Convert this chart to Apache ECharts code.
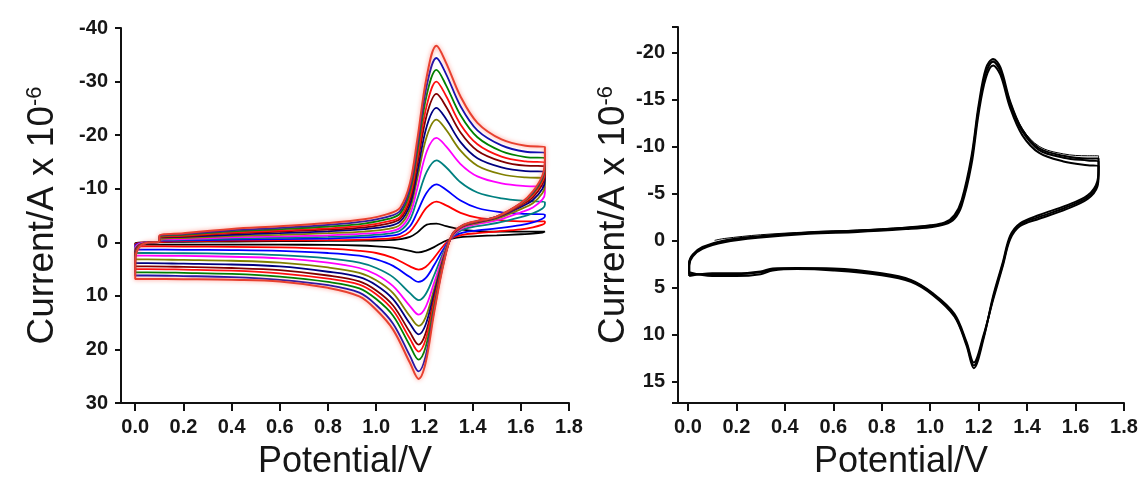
<!DOCTYPE html>
<html>
<head>
<meta charset="utf-8">
<script src="https://cdn.jsdelivr.net/npm/echarts@6/dist/echarts.min.js"></script>
<style>
html, body { margin: 0; padding: 0; background: #fff; }
#chart { width: 1145px; height: 491px; }
</style>
</head>
<body>
<div id="chart"></div>
<script>
// ---- left panel: 12 CVs at increasing scan rate (uA, anodic negative) ----
var leftColors = ['#000000', '#ff0000', '#0000ff', '#008080', '#ff00ff', '#808000',
                  '#000080', '#800000', '#ff1010', '#008000', '#1010b0', '#e8402f'];

var lfx = [0.1, 0.2, 0.4, 0.6, 0.8, 0.95, 1.05, 1.1, 1.14, 1.17, 1.21, 1.25, 1.29, 1.35, 1.42, 1.52, 1.62, 1.7];
var lrx = [1.7, 1.69, 1.65, 1.6, 1.5, 1.42, 1.36, 1.315, 1.28, 1.24, 1.205, 1.176, 1.14, 1.07, 1.0, 0.93, 0.8, 0.6, 0.4, 0.2, 0.05, 0.0];
var ltx = [0.0, 0.015, 0.05, 0.1];

var fwd0 = [-0.1, -0.1, -0.15, -0.2, -0.25, -0.3, -0.4, -0.6, -1.0, -1.8, -3.3, -3.5, -3.0, -2.4, -2.1, -2.0, -2.0, -2.0];
var fwd1 = [-0.15, -0.2, -0.3, -0.35, -0.4, -0.5, -0.7, -1.0, -2.0, -3.8, -6.5, -7.6, -6.9, -5.5, -4.6, -4.1, -3.9, -3.9];
var fwd2 = [-0.25, -0.35, -0.5, -0.6, -0.7, -0.9, -1.2, -1.6, -3.0, -5.6, -9.3, -10.8, -9.8, -7.8, -6.4, -5.6, -5.3, -5.2];
var fwd3 = [-0.35, -0.5, -0.7, -0.85, -1.0, -1.25, -1.6, -2.2, -4.2, -8.0, -13.2, -15.3, -14.0, -11.2, -9.3, -8.2, -7.7, -7.5];
var fwd4 = [-0.45, -0.6, -0.9, -1.1, -1.3, -1.6, -2.0, -2.7, -5.2, -10.0, -17.0, -19.5, -17.9, -14.6, -12.3, -11.0, -10.5, -10.4];
var fwd5 = [-0.55, -0.8, -1.15, -1.4, -1.7, -2.0, -2.5, -3.3, -6.2, -11.8, -19.8, -22.9, -21.0, -17.1, -14.3, -12.7, -12.1, -12.0];
var fwd6 = [-0.7, -1.0, -1.4, -1.7, -2.05, -2.45, -3.0, -3.9, -7.0, -13.0, -21.7, -25.1, -23.0, -18.7, -15.7, -14.0, -13.3, -13.2];
var fwd7 = [-0.8, -1.1, -1.65, -2.0, -2.35, -2.8, -3.5, -4.4, -7.8, -14.4, -23.8, -27.7, -25.3, -20.5, -17.1, -15.1, -14.3, -14.2];
var fwd8 = [-0.9, -1.25, -1.8, -2.2, -2.6, -3.1, -3.9, -4.8, -8.6, -15.5, -25.6, -30.0, -27.3, -22.0, -18.3, -16.0, -15.1, -14.9];
var fwd9 = [-1.0, -1.4, -2.05, -2.45, -2.95, -3.5, -4.35, -5.4, -9.5, -16.8, -27.6, -32.2, -29.3, -23.7, -19.6, -17.0, -15.9, -15.7];
var fwd10 = [-1.1, -1.55, -2.25, -2.7, -3.25, -3.9, -4.8, -5.9, -10.2, -17.9, -29.3, -34.4, -31.4, -25.4, -20.9, -18.1, -16.9, -16.7];
var fwd11 = [-1.2, -1.7, -2.5, -3.0, -3.6, -4.3, -5.3, -6.5, -11.0, -19.0, -31.0, -36.7, -33.5, -27.2, -22.3, -19.2, -18.0, -17.8];

var rev0 = [-1.9, -1.8, -1.6, -1.5, -1.3, -1.15, -1.0, -0.7, -0.1, 0.9, 1.6, 1.9, 1.6, 1.0, 0.75, 0.6, 0.5, 0.45, 0.45, 0.44, 0.44, 0.44];
var rev1 = [-3.6, -3.3, -2.8, -2.4, -2.0, -1.7, -1.4, -0.8, 0.6, 2.9, 4.6, 5.1, 4.5, 2.9, 2.0, 1.6, 1.2, 0.95, 0.85, 0.8, 0.75, 0.75];
var rev2 = [-4.8, -4.4, -3.7, -3.2, -2.6, -2.2, -1.8, -0.9, 1.2, 4.3, 6.7, 7.4, 6.5, 4.4, 3.2, 2.5, 2.0, 1.6, 1.45, 1.4, 1.37, 1.37];
var rev3 = [-7.0, -6.3, -5.4, -4.7, -3.6, -3.0, -2.4, -1.0, 1.8, 6.2, 9.7, 10.8, 9.5, 6.5, 4.8, 3.8, 3.0, 2.4, 2.15, 2.05, 2.0, 2.0];
var rev4 = [-9.2, -8.0, -6.5, -5.6, -4.1, -3.4, -2.7, -1.1, 2.3, 7.6, 12.1, 13.5, 11.9, 8.2, 6.0, 4.8, 3.8, 3.0, 2.7, 2.55, 2.5, 2.5];
var rev5 = [-10.6, -9.2, -7.3, -6.2, -4.4, -3.6, -2.9, -1.2, 2.6, 8.8, 14.0, 15.6, 13.8, 9.5, 7.1, 5.7, 4.7, 3.8, 3.45, 3.3, 3.2, 3.2];
var rev6 = [-11.6, -10.0, -7.9, -6.6, -4.6, -3.75, -3.0, -1.25, 2.9, 9.6, 15.4, 17.2, 15.2, 10.6, 8.0, 6.5, 5.5, 4.5, 4.15, 4.0, 3.9, 3.9];
var rev7 = [-12.5, -10.8, -8.4, -6.9, -4.7, -3.85, -3.05, -1.3, 3.2, 10.6, 17.0, 19.1, 16.8, 11.8, 9.0, 7.3, 6.2, 5.2, 4.8, 4.6, 4.5, 4.5];
var rev8 = [-13.2, -11.4, -8.8, -7.1, -4.75, -3.9, -3.1, -1.35, 3.4, 11.3, 18.2, 20.4, 18.0, 12.7, 9.7, 7.9, 6.8, 5.8, 5.3, 5.1, 5.0, 5.0];
var rev9 = [-14.0, -11.9, -9.1, -7.2, -4.8, -3.95, -3.15, -1.4, 3.6, 12.1, 19.6, 21.9, 19.3, 13.7, 10.6, 8.6, 7.4, 6.4, 5.9, 5.7, 5.6, 5.6];
var rev10 = [-14.8, -12.2, -9.3, -7.3, -4.8, -4.0, -3.2, -1.4, 3.8, 12.8, 21.3, 24.1, 21.2, 15.2, 11.7, 9.4, 8.0, 7.0, 6.5, 6.3, 6.2, 6.2];
var rev11 = [-15.5, -12.5, -9.5, -7.3, -4.8, -4.0, -3.2, -1.4, 3.9, 13.2, 22.5, 25.5, 22.5, 16.3, 12.6, 10.1, 8.5, 7.3, 7.0, 6.9, 6.85, 6.85];

var tail0 = [0.2, 0.05, 0.0, -0.05];
var tail1 = [0.35, 0.1, 0.0, -0.05];
var tail2 = [0.65, 0.2, 0.0, -0.05];
var tail3 = [1.0, 0.3, 0.05, -0.05];
var tail4 = [1.2, 0.35, 0.05, -0.05];
var tail5 = [1.6, 0.5, 0.05, -0.05];
var tail6 = [1.9, 0.6, 0.1, -0.05];
var tail7 = [2.2, 0.7, 0.1, -0.05];
var tail8 = [2.5, 0.75, 0.1, -0.05];
var tail9 = [2.8, 0.85, 0.1, -0.05];
var tail10 = [3.1, 0.95, 0.1, -0.05];
var tail11 = [3.4, 1.0, 0.1, -0.05];

var leftFwd = [fwd0, fwd1, fwd2, fwd3, fwd4, fwd5, fwd6, fwd7, fwd8, fwd9, fwd10, fwd11];
var leftRev = [rev0, rev1, rev2, rev3, rev4, rev5, rev6, rev7, rev8, rev9, rev10, rev11];
var leftTail = [tail0, tail1, tail2, tail3, tail4, tail5, tail6, tail7, tail8, tail9, tail10, tail11];

// ---- right panel: repeated cycles, all black ----
var rfx = [0.005, 0.005, 0.02, 0.06, 0.15, 0.3, 0.5, 0.7, 0.9, 1.0, 1.06, 1.1, 1.13, 1.17, 1.2, 1.23, 1.26, 1.29, 1.33, 1.38, 1.45, 1.55, 1.65, 1.695];
var rrx = [1.695, 1.69, 1.65, 1.56, 1.45, 1.37, 1.33, 1.3, 1.26, 1.22, 1.18, 1.15, 1.1, 1.01, 0.92, 0.8, 0.6, 0.45, 0.35, 0.3, 0.2, 0.1, 0.005];

var cycA_f = [3.6, 2.5, 1.6, 0.8, 0.1, -0.4, -0.8, -1.0, -1.3, -1.5, -1.8, -2.5, -4.0, -8.5, -14.0, -17.8, -19.0, -18.0, -14.5, -11.6, -9.6, -8.8, -8.5, -8.4];
var cycB_f = [3.8, 2.7, 1.7, 0.9, 0.2, -0.3, -0.7, -0.9, -1.2, -1.4, -1.7, -2.3, -3.7, -8.0, -13.5, -17.3, -18.6, -17.6, -14.1, -11.2, -9.3, -8.4, -8.0, -7.9];
var cycC_f = [3.4, 2.4, 1.5, 0.7, 0.0, -0.45, -0.85, -1.05, -1.35, -1.6, -1.9, -2.7, -4.3, -8.9, -14.4, -18.3, -19.3, -18.4, -14.8, -11.8, -9.8, -9.0, -8.7, -8.7];
var cycA_r = [-7.5, -6.0, -4.6, -3.5, -2.5, -1.7, -0.3, 2.5, 6.1, 10.3, 13.3, 11.0, 8.0, 5.7, 4.3, 3.6, 3.1, 3.0, 3.1, 3.4, 3.6, 3.6, 3.6];
var cycB_r = [-7.0, -5.7, -4.4, -3.3, -2.3, -1.5, -0.1, 2.7, 6.3, 10.1, 13.0, 10.8, 7.8, 5.6, 4.2, 3.5, 3.0, 2.95, 3.0, 3.3, 3.5, 3.5, 3.8];
var cycC_r = [-7.8, -6.3, -4.8, -3.7, -2.7, -1.8, -0.5, 2.3, 5.9, 10.5, 13.6, 11.2, 8.1, 5.8, 4.4, 3.7, 3.2, 3.05, 3.2, 3.6, 3.8, 3.8, 3.4];

// first sweep, starts at 0.11 V
var firstX = [0.11, 0.15, 0.3, 0.5, 0.7, 0.9, 1.0, 1.06, 1.1, 1.13, 1.17, 1.2, 1.23, 1.26, 1.29, 1.33, 1.38, 1.45, 1.55, 1.65, 1.695, 1.695];
var firstY = [0.0, -0.2, -0.6, -0.9, -1.1, -1.4, -1.6, -1.9, -2.6, -4.1, -8.6, -14.1, -17.9, -19.1, -18.2, -14.8, -11.9, -10.0, -9.2, -9.0, -9.0, -7.6];

function pairs(xs, ys) {
    var out = [];
    for (var i = 0; i < xs.length; i++) out.push([xs[i], ys[i]]);
    return out;
}

var chart = echarts.init(document.getElementById('chart'), null, { renderer: 'canvas' });

var FONT = '"Liberation Sans", Arial, sans-serif';
var TXT = '#161616';

// only label the round ticks (axis ends are not labelled)
function onStep(v, step) {
    var k = v / step;
    return Math.abs(k - Math.round(k)) < 1e-6;
}

function xAxisOpt(grid, min) {
    return {
        type: 'value', gridIndex: grid, min: min, max: 1.8, splitNumber: 9,
        name: 'Potential/V', nameLocation: 'middle', nameGap: 41,
        nameTextStyle: { fontSize: 36, color: TXT, fontFamily: FONT },
        axisLine: { onZero: false, lineStyle: { color: '#111', width: 2 } },
        axisTick: { show: true, length: 8, lineStyle: { width: 2, color: '#111' } },
        axisLabel: {
            margin: 14, fontSize: 20, fontWeight: 'bold', color: TXT, fontFamily: FONT,
            showMinLabel: false,
            formatter: function (v) { return onStep(v, 0.2) ? v.toFixed(1) : ''; }
        },
        splitLine: { show: false }
    };
}

function yAxisOpt(grid, min, max, split, step, gap) {
    return {
        type: 'value', gridIndex: grid, min: min, max: max, splitNumber: split, inverse: true,
        name: '{a|Current/A x 10}{b|-6}', nameLocation: 'middle', nameGap: gap, nameRotate: 90,
        nameTextStyle: {
            color: TXT, fontFamily: FONT,
            rich: {
                a: { fontSize: 37, color: TXT, fontFamily: FONT },
                b: { fontSize: 22, color: TXT, fontFamily: FONT, verticalAlign: 'top' }
            }
        },
        axisLine: { onZero: false, lineStyle: { color: '#111', width: 2 } },
        axisTick: { show: true, length: 6, lineStyle: { width: 2, color: '#111' } },
        axisLabel: {
            margin: 13, fontSize: 20, fontWeight: 'bold', color: TXT, fontFamily: FONT,
            formatter: function (v) { return onStep(v, step) ? String(Math.round(v)) : ''; }
        },
        splitLine: { show: false }
    };
}

var series = [];
for (var i = 0; i < leftFwd.length; i++) {
    var d = [[0.1, -0.05]].concat(pairs(lfx, leftFwd[i]), pairs(lrx, leftRev[i]), pairs(ltx, leftTail[i]));
    var ls = { color: leftColors[i], width: 1.8 };
    if (i === leftFwd.length - 1) {
        ls = { color: leftColors[i], width: 2, shadowColor: 'rgba(255,90,70,0.7)', shadowBlur: 4 };
    }
    series.push({
        type: 'line', xAxisIndex: 0, yAxisIndex: 0, data: d, showSymbol: false,
        smooth: 0.35, lineStyle: ls, silent: true
    });
}

var cycles = [[cycB_f, cycB_r], [cycA_f, cycA_r], [cycC_f, cycC_r]];
cycles.forEach(function (c) {
    series.push({
        type: 'line', xAxisIndex: 1, yAxisIndex: 1,
        data: pairs(rfx, c[0]).concat(pairs(rrx, c[1])),
        showSymbol: false, smooth: 0.35, silent: true,
        lineStyle: { color: '#000', width: 2 }
    });
});
series.push({
    type: 'line', xAxisIndex: 1, yAxisIndex: 1, data: pairs(firstX, firstY),
    showSymbol: false, smooth: 0.35, silent: true,
    lineStyle: { color: '#000', width: 1 }
});

var option = {
    animation: false,
    backgroundColor: '#ffffff',
    grid: [
        { left: 121, top: 28, width: 448, height: 375 },
        { left: 678, top: 27, width: 446, height: 376 }
    ],
    xAxis: [xAxisOpt(0, -0.059), xAxisOpt(1, -0.041)],
    yAxis: [yAxisOpt(0, -40, 30, 7, 10, 60), yAxisOpt(1, -22.7, 17.3, 8, 5, 43)],
    series: series
};
chart.setOption(option);
</script>
</body>
</html>
